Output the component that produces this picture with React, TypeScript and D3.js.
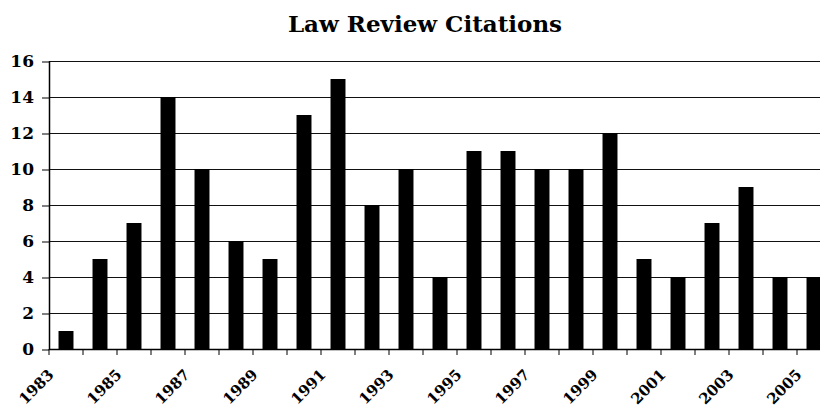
import { useEffect, useRef } from "react";
import * as d3 from "d3";

const years = [
  "1983", "1984", "1985", "1986", "1987", "1988", "1989", "1990", "1991", "1992", "1993", "1994",
  "1995", "1996", "1997", "1998", "1999", "2000", "2001", "2002", "2003", "2004", "2005",
];
const citations = [1, 5, 7, 14, 10, 6, 5, 13, 15, 8, 10, 4, 11, 11, 10, 10, 12, 5, 4, 7, 9, 4, 4];
const yTicks = [0, 2, 4, 6, 8, 10, 12, 14, 16];

const FONT = "'DejaVu Serif', serif";

const App = () => {
  const svgRef = useRef<SVGSVGElement>(null);

  useEffect(() => {
    if (!svgRef.current) return;
    const width = 820;
    const height = 411;
    const margin = { top: 61, left: 49, bottom: 62 };
    const plotRight = 831;

    const svg = d3.select(svgRef.current);
    svg.selectAll("*").remove();
    svg.attr("width", width).attr("height", height);

    const x = d3.scaleBand().domain(years).range([margin.left, plotRight]).paddingInner(0.56).paddingOuter(0.28);
    const band = (plotRight - margin.left) / years.length;
    const y = d3.scaleLinear().domain([0, 16]).range([height - margin.bottom, margin.top]);

    // Title
    svg
      .append("text")
      .attr("x", 425)
      .attr("y", 32)
      .attr("text-anchor", "middle")
      .attr("font-family", FONT)
      .attr("font-weight", "bold")
      .attr("font-size", "23px")
      .text("Law Review Citations");

    // y axis ticks + labels
    const yAxis = svg
      .append("g")
      .attr("transform", `translate(${margin.left},0.5)`)
      .call(d3.axisLeft(y).tickValues(yTicks).tickSize(7).tickPadding(8).tickFormat(d3.format("d")));
    yAxis.select(".domain").remove();
    yAxis.selectAll("line").attr("stroke", "#000");
    yAxis
      .selectAll("text")
      .attr("font-family", FONT)
      .attr("font-weight", "bold")
      .attr("font-size", "17px")
      .attr("fill", "#000");

    // Gridlines
    svg
      .append("g")
      .selectAll("line")
      .data(yTicks.filter((t) => t > 0))
      .join("line")
      .attr("x1", margin.left)
      .attr("x2", width)
      .attr("y1", (d) => y(d) + 0.5)
      .attr("y2", (d) => y(d) + 0.5)
      .attr("stroke", "#111")
      .attr("stroke-width", 1);

    // Bars
    svg
      .append("g")
      .selectAll("rect")
      .data(citations)
      .join("rect")
      .attr("x", (_, i) => x(years[i])!)
      .attr("y", (d) => y(d))
      .attr("width", x.bandwidth())
      .attr("height", (d) => y(0) - y(d))
      .attr("fill", "#000");

    // Axis lines and category ticks
    const x0 = y(0);
    svg
      .append("line")
      .attr("x1", margin.left)
      .attr("x2", width)
      .attr("y1", x0 + 0.5)
      .attr("y2", x0 + 0.5)
      .attr("stroke", "#000")
      .attr("stroke-width", 1.5);
    svg
      .append("line")
      .attr("x1", margin.left + 0.5)
      .attr("x2", margin.left + 0.5)
      .attr("y1", margin.top)
      .attr("y2", x0 + 1)
      .attr("stroke", "#000")
      .attr("stroke-width", 1.5);

    svg
      .append("g")
      .selectAll("line")
      .data(d3.range(years.length + 1))
      .join("line")
      .attr("x1", (i) => margin.left + i * band)
      .attr("x2", (i) => margin.left + i * band)
      .attr("y1", x0)
      .attr("y2", x0 + 6)
      .attr("stroke", "#000");

    // X labels, every other year
    svg
      .append("g")
      .selectAll("text")
      .data(years.filter((_, i) => i % 2 === 0))
      .join("text")
      .attr("transform", (d) => `translate(${x(d)! + x.bandwidth() / 2 - 15},${x0 + 23}) rotate(-45)`)
      .attr("text-anchor", "end")
      .attr("dy", "0.35em")
      .attr("font-family", FONT)
      .attr("font-weight", "bold")
      .attr("font-size", "15px")
      .text((d) => d);
  }, []);

  return <svg ref={svgRef} style={{ position: "absolute", left: 0, top: 0, display: "block" }} />;
};

export default App;
